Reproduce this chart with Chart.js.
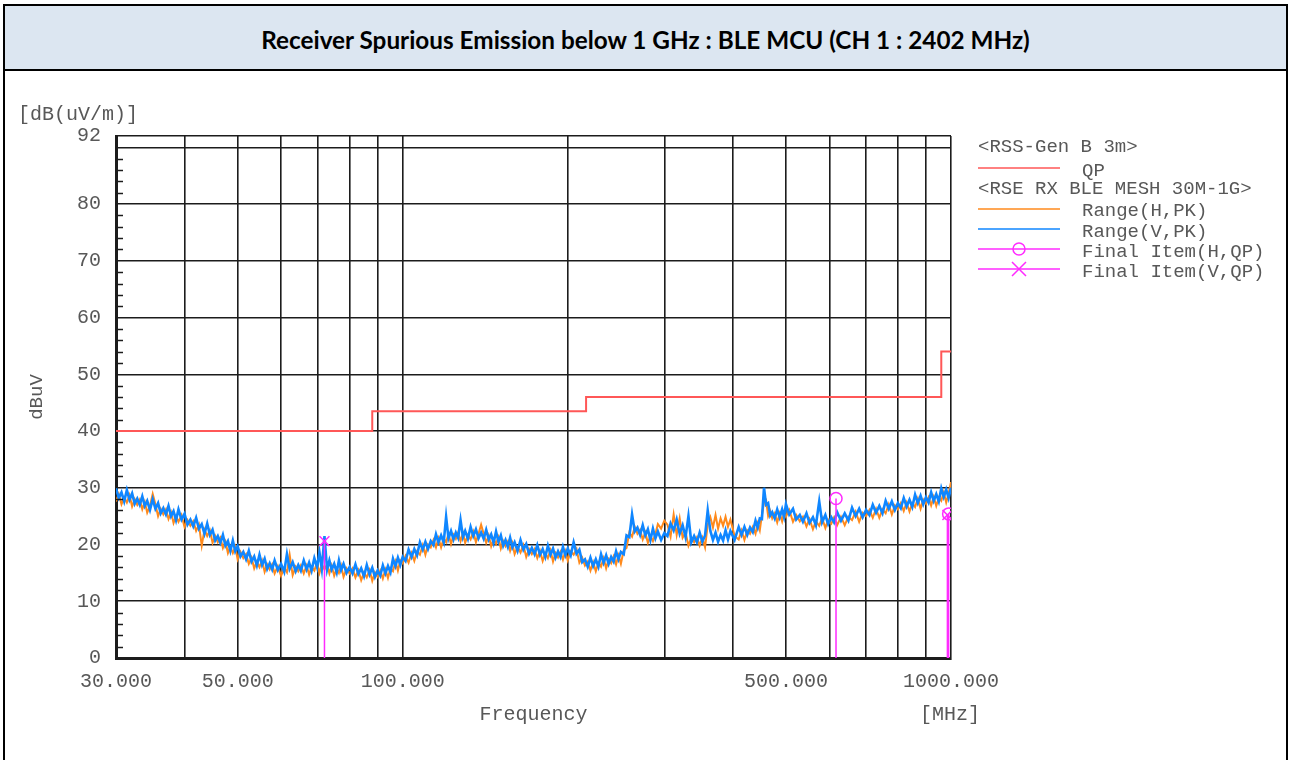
<!DOCTYPE html>
<html>
<head>
<meta charset="utf-8">
<script src="https://cdn.jsdelivr.net/npm/chart.js@4/dist/chart.umd.min.js"></script>
<style>
  html, body { margin: 0; padding: 0; background: #fff; }
  body { width: 1290px; height: 760px; position: relative; overflow: hidden; }
  .frame {
    position: absolute; left: 3px; top: 4px; width: 1281px; height: 800px;
    border: 2px solid #000;
  }
  .head {
    height: 63px; background: #dce6f1; border-bottom: 2px solid #000;
    font-family: Lato, "Open Sans", sans-serif; font-weight: bold; font-size: 24.3px;
    text-align: center; line-height: 68px; color: #000;
  }
  #plot { position: absolute; left: 0; top: 72px; }
</style>
</head>
<body>
<div class="frame"><div class="head">Receiver Spurious Emission below 1 GHz : BLE MCU (CH 1 : 2402 MHz)</div></div>
<canvas id="plot" width="1290" height="688"></canvas>
<script>
'use strict'

// sweep frequencies (MHz) shared by both peak traces
const freqMHz = [
  30, 30.35, 30.7, 31.05, 31.4, 31.75, 32.1, 32.45, 32.8, 33.15,
  33.5, 33.85, 34.2, 34.6, 35, 35.4, 35.8, 36.2, 36.6, 37,
  37.4, 37.8, 38.2, 38.6, 39, 39.5, 40, 40.5, 41, 41.5,
  42, 42.5, 43, 43.5, 44, 44.5, 45, 45.5, 46, 46.5,
  47, 47.5, 48, 48.5, 49, 49.5, 50, 50.6, 51.2, 51.8,
  52.4, 53, 53.6, 54.2, 54.8, 55.4, 56, 56.6, 57.2, 57.8,
  58.4, 59.2, 60, 60.8, 61.5, 62.2, 63, 63.8, 64.5, 65.2,
  66, 66.8, 67.5, 68.2, 69, 69.8, 70.5, 71.2, 72, 72.8,
  73.5, 74.2, 75, 75.8, 76.5, 77.2, 78, 79, 80, 81,
  82, 83, 84, 85, 86, 87, 88, 89, 90, 91,
  92, 93, 94, 95, 96, 97, 98, 99, 100, 101.2,
  102.5, 103.8, 105, 106.2, 107.5, 108.8, 110, 111.2, 112.5, 113.8,
  115, 116.2, 117.5, 118.8, 120, 121.2, 122.5, 123.8, 125, 126.2,
  127.5, 128.8, 130, 131.5, 133, 134.5, 136, 137.5, 139, 140.5,
  142, 143.5, 145, 146.5, 148, 149.5, 151, 152.5, 154, 155.5,
  157, 158.5, 160, 162, 164, 166, 168, 170, 172, 174,
  176, 178, 180, 182, 184, 186, 188, 190, 192, 194,
  196, 198, 200, 202.5, 205, 207.5, 210, 212.5, 215, 217.5,
  220, 222.5, 225, 227.5, 230, 232.5, 235, 237.5, 240, 242.5,
  245, 247.5, 250, 253, 256, 259, 262, 265, 268, 271,
  274, 277, 280, 283, 286, 289, 292, 296, 300, 304,
  308, 312, 316, 320, 324, 328, 332, 336, 340, 344,
  348, 352, 356, 360, 364, 368, 372, 376, 380, 384,
  388, 392, 396, 403, 410, 415, 420, 425, 430, 435,
  440, 444, 448, 452, 456, 460, 464, 468, 472, 477,
  482, 487, 492, 496, 500, 507, 515, 522, 530, 537,
  545, 552, 560, 567, 575, 582, 590, 597, 605, 612,
  620, 630, 640, 650, 660, 670, 680, 690, 700, 710,
  720, 730, 740, 750, 760, 770, 780, 790, 800, 810,
  820, 830, 840, 850, 860, 870, 880, 890, 900, 910,
  920, 930, 940, 950, 960, 970, 980, 990, 1000
];

// Range(V,PK) in dB(uV/m)
const rangeV = [
  29.9, 28.2, 29.2, 27.6, 29.6, 27.9, 29.0, 27.2, 28.1, 27.0,
  28.5, 26.8, 27.7, 26.1, 28.0, 26.3, 27.3, 25.5, 26.4, 25.3,
  26.8, 25.0, 25.9, 24.3, 26.2, 24.4, 25.4, 23.5, 24.4, 23.2,
  24.7, 22.8, 23.6, 21.9, 23.7, 21.7, 22.6, 20.7, 21.5, 20.3,
  21.7, 19.8, 20.6, 18.9, 20.7, 18.8, 19.7, 17.9, 18.7, 17.4,
  18.9, 17.0, 17.9, 16.3, 18.2, 16.4, 17.5, 15.7, 16.7, 15.6,
  17.2, 15.5, 16.6, 15.2, 18.3, 15.7, 16.9, 15.3, 16.4, 15.4,
  17.2, 15.6, 16.8, 15.4, 17.6, 16.0, 18.6, 15.7, 21.5, 15.6,
  17.2, 15.6, 16.6, 15.1, 17.2, 15.5, 16.6, 15.0, 16.0, 14.9,
  16.5, 14.8, 15.8, 14.4, 16.4, 14.7, 15.9, 14.3, 15.4, 14.5,
  16.3, 14.9, 16.2, 15.1, 17.5, 16.2, 17.7, 16.4, 17.8, 17.1,
  19.1, 17.8, 19.2, 18.1, 20.4, 19.1, 20.5, 19.2, 20.6, 19.9,
  21.8, 20.4, 21.6, 20.4, 24.9, 21.1, 22.4, 20.9, 22.1, 21.2,
  24.3, 21.3, 22.4, 21.0, 23.1, 21.5, 22.7, 21.1, 22.1, 21.0,
  22.6, 20.9, 21.8, 20.3, 22.3, 20.5, 21.6, 19.8, 20.8, 19.6,
  21.2, 19.5, 20.4, 18.9, 20.8, 19.1, 20.1, 18.4, 19.4, 18.3,
  19.9, 18.2, 19.2, 17.8, 19.8, 18.2, 19.3, 17.7, 18.8, 17.8,
  19.6, 18.1, 19.3, 18.1, 20.4, 18.4, 19.1, 16.9, 17.4, 16.1,
  17.7, 16.2, 17.4, 16.1, 18.3, 16.8, 18.1, 16.6, 17.8, 17.0,
  18.8, 17.4, 18.7, 18.3, 21.6, 21.3, 25.3, 22.3, 23.0, 21.7,
  23.4, 21.6, 22.7, 20.8, 22.8, 21.1, 22.3, 20.8, 22.0, 21.5,
  23.7, 22.5, 24.4, 21.9, 23.4, 21.3, 25.0, 20.4, 21.5, 20.4,
  22.1, 20.5, 21.6, 26.0, 22.4, 20.8, 22.1, 20.5, 21.7, 20.7,
  22.5, 20.9, 22.4, 20.8, 23.1, 21.7, 23.1, 21.7, 23.0, 22.2,
  24.2, 23.0, 24.6, 24.5, 30.0, 27.0, 27.3, 25.1, 25.7, 24.6,
  26.2, 24.8, 26.2, 24.9, 27.1, 25.3, 26.3, 24.4, 25.2, 24.0,
  25.5, 23.8, 24.8, 23.4, 27.6, 23.9, 25.2, 23.6, 24.8, 23.9,
  25.7, 24.2, 25.5, 24.2, 26.5, 25.0, 26.3, 24.8, 26.1, 25.2,
  27.0, 25.6, 26.8, 25.5, 27.7, 26.3, 27.6, 26.1, 27.3, 26.4,
  28.2, 26.7, 27.9, 26.6, 28.8, 27.3, 28.6, 27.1, 28.3, 27.4,
  29.2, 27.7, 28.9, 27.6, 29.9, 28.4, 29.7, 28.2, 30.0
];

// Range(H,PK) in dB(uV/m)
const rangeH = [
  27.6, 28.9, 27.1, 28.3, 27.4, 28.7, 26.7, 28.0, 27.0, 27.9,
  26.2, 27.5, 25.6, 26.8, 28.9, 27.1, 25.0, 26.3, 25.3, 26.2,
  24.5, 25.7, 23.8, 25.0, 24.0, 25.2, 23.1, 24.3, 23.3, 24.1,
  22.4, 23.5, 19.8, 22.6, 21.5, 22.5, 20.3, 21.5, 20.4, 21.2,
  19.4, 20.5, 18.5, 19.6, 18.5, 19.6, 17.4, 18.7, 17.6, 18.3,
  16.6, 17.7, 15.8, 17.0, 16.0, 17.2, 15.2, 16.5, 15.6, 16.5,
  14.9, 16.2, 14.5, 15.9, 15.1, 18.2, 14.6, 16.1, 15.3, 16.3,
  14.9, 16.3, 14.7, 16.1, 15.4, 16.8, 15.0, 16.5, 15.6, 16.5,
  14.9, 16.3, 14.5, 15.8, 15.0, 16.3, 14.3, 15.8, 14.9, 15.8,
  14.2, 15.5, 13.7, 15.1, 14.2, 15.5, 13.6, 15.1, 14.3, 15.4,
  14.0, 15.6, 14.1, 15.8, 15.3, 17.0, 15.4, 17.2, 16.7, 18.0,
  16.8, 18.5, 17.1, 18.8, 18.2, 19.9, 18.2, 20.0, 19.5, 20.8,
  19.5, 21.1, 19.5, 21.1, 20.4, 21.9, 20.1, 21.7, 21.0, 22.1,
  20.6, 22.0, 20.3, 21.7, 20.9, 22.3, 20.4, 21.9, 23.5, 21.9,
  20.3, 21.6, 19.7, 21.0, 20.1, 21.3, 19.3, 20.6, 19.7, 20.5,
  18.9, 20.2, 18.3, 19.6, 18.6, 19.9, 17.8, 19.2, 18.3, 19.2,
  17.6, 18.9, 17.1, 18.5, 17.6, 19.0, 17.0, 18.5, 17.7, 18.7,
  17.3, 18.8, 17.2, 18.8, 18.2, 19.2, 16.8, 17.7, 16.3, 17.0,
  15.4, 16.9, 15.3, 16.8, 16.1, 17.6, 15.8, 17.4, 16.7, 17.9,
  16.5, 18.1, 16.6, 19.0, 19.4, 22.1, 21.4, 23.1, 21.9, 22.6,
  20.9, 22.1, 20.3, 21.5, 20.6, 21.9, 23.6, 22.8, 24.2, 23.5,
  21.4, 25.3, 21.7, 24.6, 21.2, 22.1, 19.8, 21.2, 20.4, 21.3,
  19.8, 21.2, 19.5, 23.5, 24.8, 23.0, 25.2, 22.8, 24.6, 23.3,
  24.9, 23.1, 24.4, 21.5, 20.9, 22.5, 20.8, 22.5, 21.9, 23.1,
  21.9, 23.7, 22.5, 25.2, 27.4, 27.8, 25.0, 25.9, 24.6, 25.5,
  23.9, 25.5, 24.1, 25.6, 24.9, 26.1, 24.0, 25.2, 24.1, 24.9,
  23.2, 24.5, 22.7, 24.1, 23.3, 24.7, 22.9, 24.4, 23.7, 24.8,
  23.4, 24.9, 23.4, 24.9, 24.3, 25.8, 24.0, 25.6, 25.0, 26.1,
  24.7, 26.3, 24.7, 26.2, 25.5, 27.1, 25.3, 26.9, 26.2, 27.3,
  25.9, 27.4, 25.8, 27.3, 26.6, 28.1, 26.3, 27.9, 27.2, 28.3,
  26.9, 28.4, 26.8, 28.3, 27.7, 29.2, 27.4, 29.0, 31.0
];

// RSS-Gen B 3m QP limit, each value holds until the next frequency
const limitFreq = [30, 88, 216, 960, 1000];
const limitQP = [40, 43.5, 46, 54, 54];

// final quasi-peak measurements
const finalFreqH = [617, 990];
const finalLevelH = [28.1, 25.4];
const finalFreqV = [72, 985];
const finalLevelV = [20.6, 25.2];

// axis ticks
const xGridMHz = [30, 40, 50, 60, 70, 80, 90, 100, 200, 300, 400, 500, 600, 700, 800, 900, 1000];
const xLabelMHz = [30, 50, 100, 500, 1000];
const yGrid = [0, 10, 20, 30, 40, 50, 60, 70, 80, 90, 92];
const yLabels = [0, 10, 20, 30, 40, 50, 60, 70, 80, 92];

const RED = '#ff5757';
const ORANGE = '#ff8a1c';
const BLUE = '#0f86ff';
const MAGENTA = '#ff2bff';
const GRID = '#1c1c1c';
const TEXT = '#585858';
const MONO = '"Liberation Mono", "DejaVu Sans Mono", monospace';

const toPoints = (xs, ys) => xs.map((x, i) => ({ x: x, y: ys[i] }));

// vertical stems from the axis up to each final measurement
const stemPoints = [];
finalFreqH.concat(finalFreqV).forEach((f, i) => {
  const level = finalLevelH.concat(finalLevelV)[i];
  stemPoints.push({ x: f, y: 0 }, { x: f, y: level }, { x: f, y: null });
});

const legendRows = [
  { text: '<RSS-Gen B 3m>', y: 75 },
  { text: 'QP', y: 99, line: RED, ly: 96 },
  { text: '<RSE RX BLE MESH 30M-1G>', y: 117 },
  { text: 'Range(H,PK)', y: 139, line: ORANGE, ly: 137 },
  { text: 'Range(V,PK)', y: 160, line: BLUE, ly: 157 },
  { text: 'Final Item(H,QP)', y: 180, line: MAGENTA, ly: 177, mark: 'circle' },
  { text: 'Final Item(V,QP)', y: 200, line: MAGENTA, ly: 197, mark: 'cross' }
];

const extras = {
  id: 'extras',
  afterDatasetsDraw(chart) {
    const ctx = chart.ctx;
    const y = chart.scales.y;
    const left = chart.chartArea.left;
    ctx.save();
    // small inner ticks every 2 dB
    ctx.strokeStyle = GRID;
    ctx.lineWidth = 1.5;
    for (let v = 2; v < 92; v += 2) {
      if (v % 10 === 0) continue;
      const py = Math.round(y.getPixelForValue(v)) + 0.5;
      ctx.beginPath();
      ctx.moveTo(left, py);
      ctx.lineTo(left + 7, py);
      ctx.stroke();
    }
    ctx.restore();
  },
  afterDraw(chart) {
    const ctx = chart.ctx;
    ctx.save();
    ctx.fillStyle = TEXT;
    ctx.textBaseline = 'middle';
    ctx.font = '20px ' + MONO;
    ctx.textAlign = 'left';
    ctx.fillText('[dB(uV/m)]', 18, 43);
    ctx.textAlign = 'center';
    ctx.fillText('[MHz]', 950, 643);

    // legend
    ctx.font = '19px ' + MONO;
    ctx.textAlign = 'left';
    legendRows.forEach((row) => {
      ctx.fillStyle = TEXT;
      if (row.line) {
        ctx.fillText(row.text, 1082, row.y);
        ctx.strokeStyle = row.line;
        ctx.lineWidth = 1.5;
        ctx.beginPath();
        ctx.moveTo(978, row.ly);
        ctx.lineTo(1060, row.ly);
        ctx.stroke();
        if (row.mark === 'circle') {
          ctx.beginPath();
          ctx.arc(1019, row.ly, 6, 0, Math.PI * 2);
          ctx.stroke();
        } else if (row.mark === 'cross') {
          ctx.beginPath();
          ctx.moveTo(1012, row.ly - 7); ctx.lineTo(1026, row.ly + 7);
          ctx.moveTo(1026, row.ly - 7); ctx.lineTo(1012, row.ly + 7);
          ctx.stroke();
        }
      } else {
        ctx.fillText(row.text, 978, row.y);
      }
    });
    ctx.restore();
  }
};

const ctx = document.getElementById('plot');

new Chart(ctx, {
  type: 'scatter',
  data: {
    datasets: [
      {
        label: 'Final Item(H,QP)',
        data: toPoints(finalFreqH, finalLevelH),
        pointStyle: 'circle',
        pointRadius: 6,
        pointBorderColor: MAGENTA,
        pointBackgroundColor: 'rgba(0,0,0,0)',
        pointBorderWidth: 1.5,
        order: 0
      },
      {
        label: 'Final Item(V,QP)',
        data: toPoints(finalFreqV, finalLevelV),
        pointStyle: 'crossRot',
        pointRadius: 7,
        pointBorderColor: MAGENTA,
        pointBorderWidth: 1.5,
        order: 0
      },
      {
        label: 'stems',
        data: stemPoints,
        showLine: true,
        borderColor: MAGENTA,
        borderWidth: 1.5,
        pointRadius: 0,
        spanGaps: false,
        order: 1
      },
      {
        label: 'QP',
        data: toPoints(limitFreq, limitQP),
        showLine: true,
        stepped: 'before',
        borderColor: RED,
        borderWidth: 2,
        pointRadius: 0,
        order: 2
      },
      {
        label: 'Range(V,PK)',
        data: toPoints(freqMHz, rangeV),
        showLine: true,
        borderColor: BLUE,
        borderWidth: 2.6,
        pointRadius: 0,
        order: 3
      },
      {
        label: 'Range(H,PK)',
        data: toPoints(freqMHz, rangeH),
        showLine: true,
        borderColor: ORANGE,
        borderWidth: 2,
        pointRadius: 0,
        order: 4
      }
    ]
  },
  options: {
    responsive: false,
    animation: false,
    events: [],
    layout: { padding: { top: 64, right: 339, left: 0, bottom: 0 } },
    plugins: { legend: { display: false }, tooltip: { enabled: false } },
    scales: {
      x: {
        type: 'logarithmic',
        min: 30,
        max: 1000,
        afterBuildTicks: (scale) => { scale.ticks = xGridMHz.map((v) => ({ value: v })); },
        afterFit: (scale) => { scale.height = 102; },
        grid: { color: GRID, lineWidth: 1.6, drawTicks: false },
        border: { color: GRID, width: 3 },
        ticks: {
          autoSkip: false,
          maxRotation: 0,
          padding: 12,
          color: TEXT,
          font: { family: MONO, size: 20 },
          callback: (v) => xLabelMHz.includes(v) ? v.toFixed(3) : ''
        },
        title: {
          display: true,
          text: 'Frequency',
          color: TEXT,
          font: { family: MONO, size: 20 },
          padding: { top: 0, bottom: 33 }
        }
      },
      y: {
        min: 0,
        max: 92,
        afterBuildTicks: (scale) => { scale.ticks = yGrid.map((v) => ({ value: v })); },
        afterFit: (scale) => { scale.width = 116; },
        grid: { color: GRID, lineWidth: 1.6, drawTicks: false },
        border: { color: GRID, width: 3 },
        ticks: {
          padding: 15,
          color: TEXT,
          font: { family: MONO, size: 20 },
          callback: (v) => yLabels.includes(v) ? String(v) : ''
        },
        title: {
          display: true,
          text: 'dBuV',
          color: TEXT,
          font: { family: MONO, size: 19 },
          padding: { top: 26, bottom: 0 }
        }
      }
    }
  },
  plugins: [extras]
});
</script>
</body>
</html>
